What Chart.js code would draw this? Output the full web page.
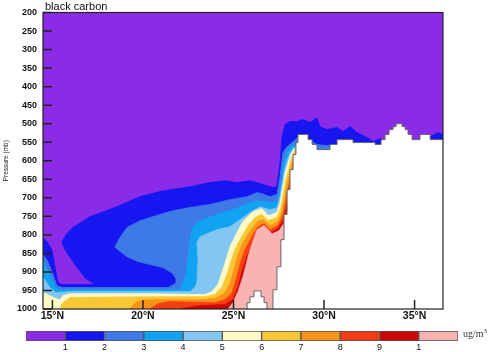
<!DOCTYPE html>
<html>
<head>
<meta charset="utf-8">
<script src="https://cdn.jsdelivr.net/npm/chart.js@4.4.1/dist/chart.umd.min.js"></script>
<style>
  body { margin: 0; background: #fff; width: 500px; height: 352px; position: relative; overflow: hidden; }
  #plot { position: absolute; left: 0; top: 0; }
  #bar { position: absolute; left: 0; top: 325px; }
  #unit { position: absolute; left: 463px; top: 327px; font: 10px "Liberation Serif", serif; color: #333; }
  #unit sup { font-size: 7px; }
</style>
</head>
<body>
<canvas id="plot" width="500" height="325"></canvas>
<canvas id="bar" width="500" height="27"></canvas>
<div id="unit">ug/m<sup>3</sup></div>
<script>
const title = 'black carbon';
const xTicks = [15, 20, 25, 30, 35];
const xLabels = ['15°N', '20°N', '25°N', '30°N', '35°N'];
const yTicks = [200, 250, 300, 350, 400, 450, 500, 550, 600, 650, 700, 750, 800, 850, 900, 950, 1000];
const levelTicks = [1, 2, 3, 4, 5, 6, 7, 8, 9, 10];
const levelLabels = ['1', '2', '3', '4', '5', '6', '7', '8', '9', '1'];
const levelColors = ['#8a2be8', '#1616f0', '#3d7ae6', '#12a2f2', '#82c6f2', '#fff9c6',
                     '#f9c733', '#fa9317', '#f93d13', '#cc0505', '#f8b3b3'];

// contour outlines (lat, pressure) of the regions >= 1 ... >= 10 ug/m3
const c1 = [[14.48,808],[14.70,818],[14.97,840],[15.14,886],[15.30,929],[15.52,934],[17.35,934],[16.80,916],[16.24,880],[15.75,845],[15.52,821],[15.75,799],[16.13,780],[17.07,751],[18.56,724],[19.83,697],[20.94,683],[21.49,678],[22.60,670],[23.70,659],[24.53,654],[25.19,659],[25.91,654],[26.63,664],[27.18,672],[27.40,670],[27.57,605],[27.68,535],[27.85,502],[28.12,494],[28.51,494],[28.84,489],[29.23,497],[29.61,484],[29.78,508],[30.17,516],[30.72,510],[31.05,521],[31.44,508],[31.82,524],[32.38,537],[32.71,548],[33.09,540],[33.37,548],[35.58,548],[35.86,535],[36.30,524],[36.57,529],[36.57,1000],[14.48,1000]];
const c2 = [[14.48,853],[14.75,872],[15.03,907],[15.25,937],[15.52,942],[21.38,942],[21.77,932],[21.82,918],[21.60,902],[21.10,888],[20.39,880],[19.72,872],[19.12,859],[18.62,840],[18.45,832],[18.73,807],[19.12,780],[19.83,762],[20.94,745],[21.49,737],[22.60,726],[23.70,718],[24.81,705],[25.75,697],[26.30,686],[26.57,689],[27.02,697],[27.40,691],[27.57,643],[27.73,578],[27.96,562],[28.23,551],[28.56,537],[29.12,543],[29.61,556],[30.06,559],[30.50,559],[30.77,570],[30.77,1000],[14.48,1000]];
const c3 = [[14.48,872],[14.86,907],[15.14,940],[15.41,948],[22.04,948],[22.38,907],[22.49,862],[22.60,813],[22.76,778],[23.15,762],[24.09,745],[24.81,735],[25.52,721],[26.30,708],[27.02,713],[27.40,710],[27.57,678],[27.73,610],[28.01,570],[28.29,559],[28.56,556],[28.67,1000],[14.48,1000]];
const c4 = [[14.48,915],[14.86,942],[15.19,956],[15.97,953],[22.60,953],[22.87,942],[22.98,929],[23.04,867],[22.98,821],[23.15,805],[24.09,786],[24.81,778],[25.36,759],[25.91,740],[26.46,724],[27.02,732],[27.40,727],[27.57,697],[27.85,616],[28.12,578],[28.40,562],[28.67,1000],[14.48,1000]];
const c5 = [[14.48,956],[14.86,964],[15.19,972],[15.41,975],[15.58,964],[15.97,959],[20.39,959],[23.43,961],[23.81,953],[24.14,934],[24.36,902],[24.59,867],[24.81,832],[25.19,794],[25.52,764],[26.08,737],[26.57,729],[26.91,748],[27.40,740],[27.57,713],[27.85,632],[28.12,589],[28.34,567],[28.67,1000],[14.48,1000]];
const c6 = [[15.41,1000],[15.58,983],[15.97,969],[20.39,967],[23.43,967],[23.98,961],[24.36,942],[24.64,907],[24.86,872],[25.08,840],[25.36,813],[25.75,780],[26.19,753],[26.57,745],[26.91,762],[27.40,753],[27.62,726],[27.90,651],[28.18,597],[28.40,570],[28.67,1000]];
const c7 = [[19.28,1000],[19.56,983],[20.11,975],[23.15,975],[23.98,972],[24.53,956],[24.81,929],[25.03,894],[25.25,853],[25.52,821],[25.91,791],[26.35,764],[26.63,759],[27.02,775],[27.46,764],[27.68,737],[27.96,664],[28.23,605],[28.45,575],[28.67,1000]];
const c8 = [[20.39,1000],[20.83,986],[21.49,980],[23.98,983],[24.53,975],[24.92,956],[25.14,921],[25.36,880],[25.64,840],[26.02,805],[26.35,778],[26.69,770],[27.02,786],[27.46,775],[27.73,748],[28.01,678],[28.29,616],[28.51,583],[28.67,1000]];
const c9 = [[22.04,1000],[23.15,991],[24.53,988],[24.97,975],[25.25,942],[25.47,899],[25.75,859],[26.08,821],[26.35,791],[26.69,778],[27.07,794],[27.46,783],[27.79,759],[28.07,691],[28.34,629],[28.56,591],[28.67,1000]];
const c10 = [[24.70,1000],[24.97,983],[25.25,953],[25.52,913],[25.91,840],[26.30,786],[26.69,775],[27.13,797],[27.51,789],[27.85,764],[28.12,705],[28.40,643],[28.56,602],[28.67,1000]];

// surface pressure (terrain mask)
const surfLat = [27.18,27.18,27.40,27.62,27.79,27.96,28.12,28.29,28.45,28.56,29.12,29.34,29.61,30.33,30.72,31.60,32.82,33.15,33.37,33.59,33.81,33.98,34.31,34.48,34.64,34.86,35.30,35.86,36.57];
const surfP   = [1000,948,886,813,745,678,624,583,551,529,543,556,570,556,543,551,556,543,529,516,508,500,508,516,529,543,529,543,543];
const moundLat = [25.75,25.75,25.91,26.13,26.52,26.69,26.85];
const moundP   = [1000,983,967,951,967,983,1000];

const XMIN = 14.48, XMAX = 36.57;
Chart.defaults.font.family = '"Liberation Sans", Arial, sans-serif';
Chart.defaults.color = '#111';

const pts = arr => arr.map(([x, y]) => ({x, y}));
const contours = [c1, c2, c3, c4, c5, c6, c7, c8, c9, c10];
const datasets = contours.map((c, i) => ({
  data: pts(c),
  backgroundColor: levelColors[i + 1],
  borderColor: levelColors[i + 1],
  borderWidth: 0.8,
  fill: 'shape',
  pointRadius: 0,
  tension: 0,
  order: 20 - i
}));
[[surfLat, surfP], [moundLat, moundP]].forEach(([la, pr]) => {
  datasets.push({
    data: la.map((x, i) => ({x, y: pr[i]})),
    backgroundColor: '#ffffff',
    borderColor: '#666',
    borderWidth: 1,
    stepped: 'before',
    fill: {value: 1000},
    pointRadius: 0,
    order: 0
  });
});

const framePlugin = {
  id: 'frame',
  beforeDatasetsDraw(chart) {
    const {ctx, chartArea: a} = chart;
    ctx.save();
    ctx.fillStyle = levelColors[0];
    ctx.fillRect(a.left, a.top, a.width, a.height);
    ctx.restore();
  },
  afterDatasetsDraw(chart) {
    const {ctx, chartArea: a, scales: {x, y}} = chart;
    ctx.save();
    ctx.strokeStyle = '#222';
    ctx.lineWidth = 1.5;
    ctx.beginPath();
    xTicks.forEach(v => {
      const px = x.getPixelForValue(v);
      ctx.moveTo(px, a.bottom); ctx.lineTo(px, a.bottom - 9);
    });
    yTicks.forEach(v => {
      const py = y.getPixelForValue(v);
      ctx.moveTo(a.left, py); ctx.lineTo(a.left + 9, py);
    });
    ctx.stroke();
    ctx.lineWidth = 1.2;
    ctx.strokeRect(a.left, a.top, a.width, a.height);
    ctx.fillStyle = '#111';
    ctx.font = '11px "Liberation Sans", Arial, sans-serif';
    ctx.fillText(title, a.left + 2, a.top - 2.5);
    ctx.restore();
  }
};

new Chart(document.getElementById('plot'), {
  type: 'line',
  data: {datasets},
  options: {
    responsive: false,
    animation: false,
    events: [],
    layout: {padding: {top: 12.5, right: 57, left: 0, bottom: 0}},
    plugins: {legend: {display: false}, tooltip: {enabled: false}},
    scales: {
      x: {
        type: 'linear', min: XMIN, max: XMAX,
        grid: {display: false, drawTicks: false}, border: {display: false},
        afterBuildTicks: s => { s.ticks = xTicks.map(v => ({value: v})); },
        afterFit: s => { s.height = 16; },
        ticks: {
          callback: v => xLabels[xTicks.indexOf(v)],
          font: {size: 10.5, weight: 'bold'}, padding: 1, maxRotation: 0, autoSkip: false
        }
      },
      y: {
        type: 'linear', min: 200, max: 1000, reverse: true,
        grid: {display: false, drawTicks: false}, border: {display: false},
        afterBuildTicks: s => { s.ticks = yTicks.map(v => ({value: v})); },
        afterFit: s => { s.width = 43; },
        ticks: {callback: v => String(v), font: {size: 9, weight: 'bold'}, padding: 6, autoSkip: false},
        title: {display: true, text: 'Pressure (mb)', font: {size: 6.5}, padding: {top: 2.5, bottom: 0}}
      }
    }
  },
  plugins: [framePlugin]
});

// colour bar
new Chart(document.getElementById('bar'), {
  type: 'bar',
  data: {
    labels: [''],
    datasets: levelColors.map(c => ({
      data: [1], backgroundColor: c, borderColor: '#555', borderWidth: 1,
      borderSkipped: false, barPercentage: 1, categoryPercentage: 1
    }))
  },
  options: {
    indexAxis: 'y',
    responsive: false,
    animation: false,
    events: [],
    layout: {padding: {left: 26, right: 42, top: 6, bottom: 0}},
    plugins: {legend: {display: false}, tooltip: {enabled: false}},
    scales: {
      x: {
        stacked: true, min: 0, max: 11,
        grid: {display: false, drawTicks: false}, border: {display: false},
        afterBuildTicks: s => { s.ticks = levelTicks.map(v => ({value: v})); },
        afterFit: s => { s.height = 11; },
        ticks: {
          callback: v => levelLabels[levelTicks.indexOf(v)],
          font: {size: 9}, padding: 1, maxRotation: 0, autoSkip: false
        }
      },
      y: {stacked: true, display: false}
    }
  }
});
</script>
</body>
</html>
